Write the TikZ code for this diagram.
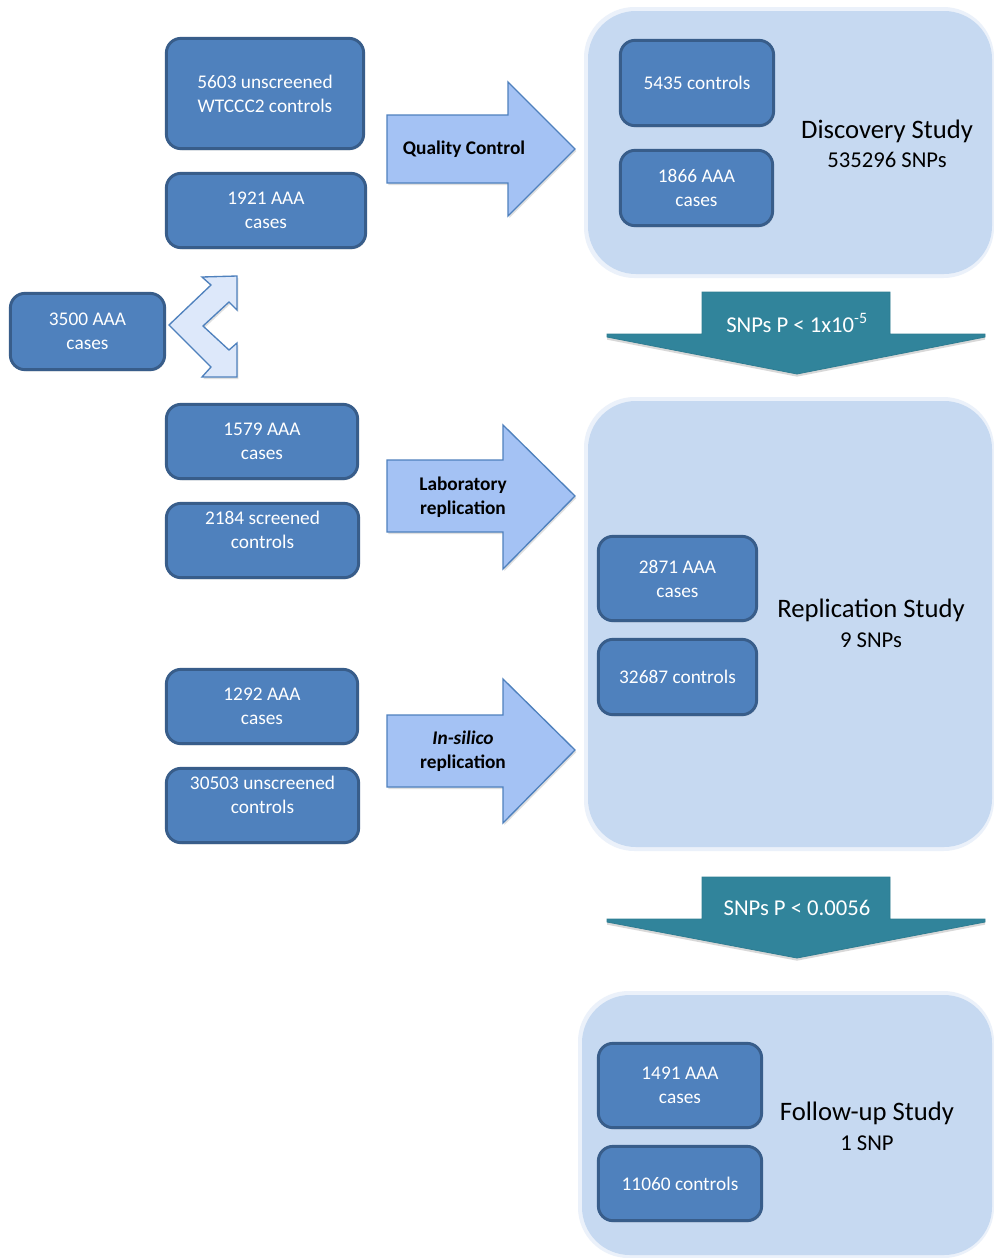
\documentclass[tikz,border=0pt]{standalone}
\usepackage{fontspec}
\setmainfont{Carlito}
\usetikzlibrary{shadows}
\definecolor{boxfill}{HTML}{4F81BD}
\definecolor{boxline}{HTML}{385D8A}
\definecolor{panelfill}{HTML}{C6D9F1}
\definecolor{panelglow}{HTML}{EBF1FA}
\definecolor{arrowfill}{HTML}{A4C2F4}
\definecolor{arrowline}{HTML}{4F81BD}
\definecolor{chevfill}{HTML}{DDE8FA}
\definecolor{teal}{HTML}{31849B}
\definecolor{tealline}{HTML}{2E7D92}
\tikzset{
  databox/.style 2 args={draw=boxline, line width=2.2pt, fill=boxfill, rounded corners=11pt,
    minimum width=#1*0.75pt-2pt, minimum height=#2*0.75pt-2pt, text=white, align=center,
    font=\fontsize{14.5}{18}\selectfont, inner sep=0pt,
    drop shadow={opacity=0.25, shadow xshift=0.8pt, shadow yshift=-1.2pt}},
  boxtext/.style={text=white, align=center, font=\fontsize{14.5}{18}\selectfont, inner sep=0pt},
  panel/.style={fill=panelfill, rounded corners=36pt},
  glow/.style={fill=panelglow, rounded corners=38pt},
  bigarrow/.style={draw=arrowline, line width=1pt, fill=arrowfill,
    drop shadow={opacity=0.25, shadow xshift=1pt, shadow yshift=-1.5pt}},
  arrowtext/.style={font=\bfseries\fontsize{14.5}{18}\selectfont, align=center, text=black},
  tealarrow/.style={draw=tealline, line width=0.6pt, fill=teal,
    drop shadow={opacity=0.3, shadow xshift=0pt, shadow yshift=-2pt}},
  tealtext/.style={font=\fontsize{17}{20}\selectfont, text=white},
  studytitle/.style={font=\fontsize{20}{24}\selectfont, text=black},
  studysub/.style={font=\fontsize{17}{20}\selectfont, text=black},
}
\begin{document}
\begin{tikzpicture}[x=0.75pt,y=-0.75pt]
\useasboundingbox (0,0) rectangle (994,1258);
\fill[white] (0,0) rectangle (994,1258);

% panels
\fill[glow] (584,7) rectangle (994,278);
\fill[panel] (588,11) rectangle (992,274);
\fill[glow] (584,397) rectangle (994,851);
\fill[panel] (588,401) rectangle (992,847);
\fill[glow] (578,991) rectangle (994,1258);
\fill[panel] (582,995) rectangle (992,1255);

% left boxes
\node[databox={200}{113}] (b1) at (265,93.5) {5603 unscreened\\WTCCC2 controls};
\node[databox={202}{77}] (b2) at (266,210.5) {1921 AAA\\cases};
\node[databox={157}{79}] (b3) at (87.5,331.5) {3500 AAA\\cases};
\node[databox={194}{77}] (b4) at (262,441.5) {1579 AAA\\cases};
\node[databox={195}{77}] (b5) at (262.5,540.5) {};
\node[boxtext] (b5t) at (262.5,530) {2184 screened\\controls};
\node[databox={194}{77}] (b6) at (262,706.5) {1292 AAA\\cases};
\node[databox={195}{77}] (b7) at (262.5,805.5) {};
\node[boxtext] (b7t) at (262.5,795) {30503 unscreened\\controls};

% chevron double arrow
\draw[draw=arrowline, line width=1pt, fill=chevfill,
  drop shadow={opacity=0.25, shadow xshift=1pt, shadow yshift=-1.5pt}]
  (169,325) -- (211,285) -- (202,277) -- (237,276) -- (237,310) -- (229,302)
  -- (203,326) -- (229,350) -- (237,343) -- (237,377) -- (202,377) -- (211,367) -- cycle;

% process arrows
\draw[bigarrow] (387,115) -- (508,115) -- (508,82) -- (575,149) -- (508,216) -- (508,183) -- (387,183) -- cycle;
\node[arrowtext] (qc) at (464,149) {Quality Control};
\draw[bigarrow] (387,460) -- (503,460) -- (503,425) -- (575,496) -- (503,569) -- (503,532) -- (387,532) -- cycle;
\node[arrowtext] (lab) at (463,497) {Laboratory\\replication};
\draw[bigarrow] (387,715) -- (503,715) -- (503,679) -- (575,750) -- (503,823) -- (503,787) -- (387,787) -- cycle;
\node[arrowtext] (insil) at (463,751) {\textit{In-silico}\\replication};

% discovery study
\node[databox={156}{88}] (d1) at (697,83) {5435 controls};
\node[databox={155}{78}] (d2) at (696.5,188) {1866 AAA\\cases};
\node[studytitle] (dt) at (887,131) {Discovery Study};
\node[studysub] (ds) at (887,160) {535296 SNPs};

% teal arrow 1
\draw[tealarrow] (702,292) -- (890,292) -- (890,334) -- (985,334) -- (985,337) -- (797,374) -- (607,337) -- (607,334) -- (702,334) -- cycle;
\node[tealtext] (t1) at (797,323) {SNPs P < 1x10\textsuperscript{-5}};

% replication study
\node[databox={161}{87}] (r1) at (677.5,578.5) {2871 AAA\\cases};
\node[databox={161}{78}] (r2) at (677.5,677) {32687 controls};
\node[studytitle] (rt) at (871,610) {Replication Study};
\node[studysub] (rs) at (871,640) {9 SNPs};

% teal arrow 2
\draw[tealarrow] (702,877) -- (890,877) -- (890,919) -- (985,919) -- (985,922) -- (797,958) -- (607,922) -- (607,919) -- (702,919) -- cycle;
\node[tealtext] (t2) at (797,908) {SNPs P < 0.0056};

% follow-up study
\node[databox={166}{87}] (f1) at (680,1085.5) {1491 AAA\\cases};
\node[databox={166}{77}] (f2) at (680,1183.5) {11060 controls};
\node[studytitle] (ft) at (867,1113) {Follow-up Study};
\node[studysub] (fs) at (867,1143) {1 SNP};
\end{tikzpicture}
\end{document}
